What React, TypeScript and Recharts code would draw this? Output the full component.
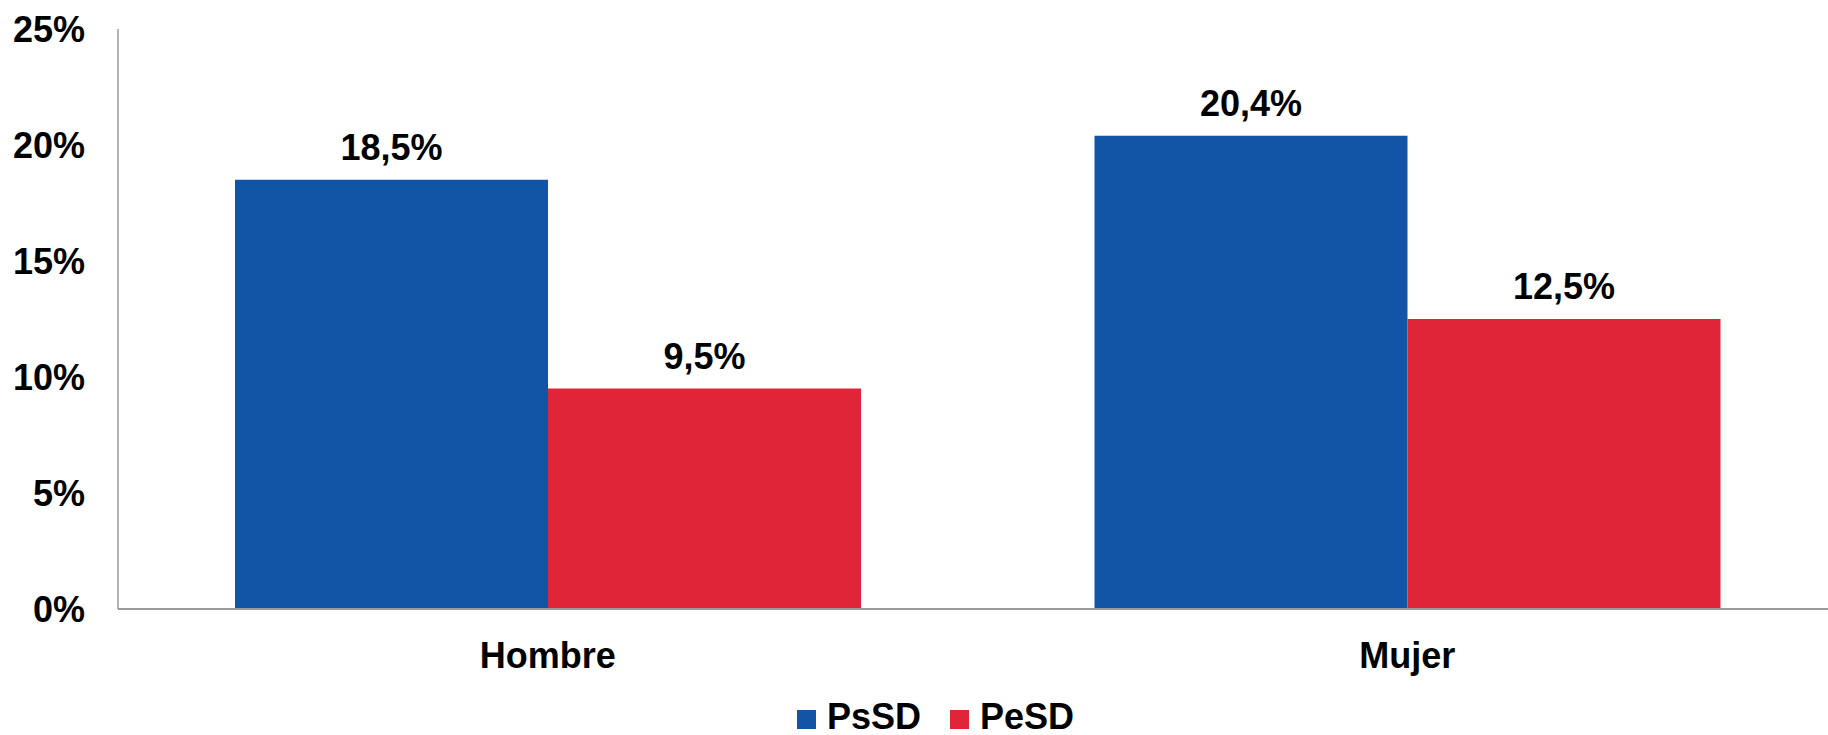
import { Bar, BarChart, LabelList, XAxis, YAxis } from 'recharts';

const categories = ['Hombre', 'Mujer'];
const psSD = [18.5, 20.4];
const peSD = [9.5, 12.5];
const yTicks = [0, 5, 10, 15, 20, 25];

const series = [
  { key: 'PsSD', color: '#1254A5' }, // blue
  { key: 'PeSD', color: '#E12539' }, // red
];

const font = '"Liberation Sans", Arial, sans-serif';

const chartData = categories.map((name, i) => ({
  name,
  PsSD: psSD[i],
  PeSD: peSD[i],
}));

const pct = (v: any) => `${String(v).replace('.', ',')}%`;

function ChartLegend() {
  return (
    <div
      style={{
        position: 'absolute',
        left: 797,
        top: 702,
        display: 'flex',
        alignItems: 'baseline',
        fontFamily: font,
        fontWeight: 'bold',
        fontSize: 36,
        lineHeight: '30px',
        color: '#000',
        whiteSpace: 'nowrap',
      }}
    >
      {series.map((s) => (
        <div key={s.key} style={{ display: 'flex', alignItems: 'baseline', marginRight: 29 }}>
          <div style={{ width: 19, height: 19, background: s.color, marginRight: 11 }} />
          <span>{s.key}</span>
        </div>
      ))}
    </div>
  );
}

export default function App() {
  const tickStyle = { fontSize: 36, fontWeight: 'bold', fill: '#000', fontFamily: font };

  return (
    <div
      style={{
        position: 'absolute',
        left: 0,
        top: 0,
        width: 1828,
        height: 735,
        overflow: 'hidden',
        background: '#fff',
      }}
    >
      <BarChart
        width={1840}
        height={735}
        data={chartData}
        margin={{ top: 29, right: 3, left: 0, bottom: 96 }}
        barGap={0}
        barCategoryGap={117}
      >
        <XAxis
          dataKey="name"
          height={30}
          axisLine={{ stroke: '#9a9a9a', strokeWidth: 2 }}
          tickLine={false}
          tickSize={0}
          tickMargin={33}
          tick={tickStyle}
        />
        <YAxis
          width={118}
          domain={[0, 25]}
          ticks={yTicks}
          tickFormatter={(v) => `${v}%`}
          axisLine={{ stroke: '#9a9a9a', strokeWidth: 1.5 }}
          tickLine={false}
          tickSize={0}
          tickMargin={33}
          tick={tickStyle}
        />
        {series.map((s) => (
          <Bar key={s.key} dataKey={s.key} fill={s.color} isAnimationActive={false}>
            <LabelList
              dataKey={s.key}
              position="top"
              offset={20}
              formatter={pct}
              style={tickStyle}
            />
          </Bar>
        ))}
      </BarChart>
      <ChartLegend />
    </div>
  );
}
